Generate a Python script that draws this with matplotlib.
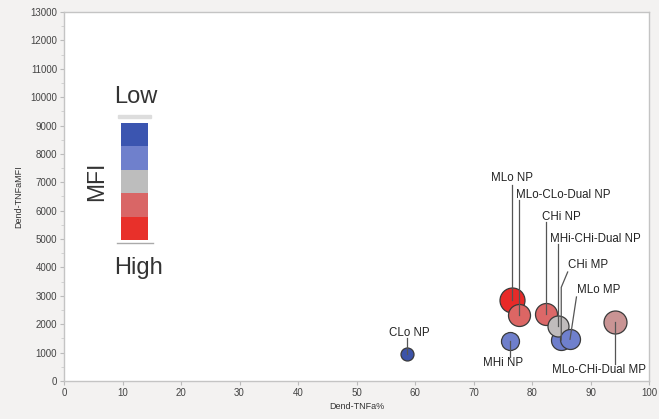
import matplotlib
matplotlib.use("Agg")
import matplotlib.pyplot as plt
from matplotlib.ticker import MultipleLocator

plt.rcParams['font.family'] = ['Liberation Sans', 'DejaVu Sans']

# ---- data ----
names = ["MLo NP", "MLo-CLo-Dual NP", "CHi NP", "MHi-CHi-Dual NP", "CHi MP",
         "MLo MP", "CLo NP", "MHi NP", "MLo-CHi-Dual MP"]
tnfa_pct = [76.5, 77.8, 82.4, 84.4, 85.0, 86.5, 58.7, 76.2, 94.2]
tnfa_mfi = [2850, 2330, 2350, 1950, 1440, 1470, 950, 1420, 2070]
bubble_d = [25, 22, 22, 21, 20, 20, 13, 18, 23]   # bubble diameters (px)
colors = ["#e82a28", "#dc6664", "#dc6868", "#c0bcbc", "#6e7ecb",
          "#6f80cc", "#3c53a8", "#6f7fcb", "#c99494"]

legend_colors = ["#3b55b0", "#6f80cc", "#bdbdbd", "#d96666", "#e8302a"]

# label layout: (text x, text y, ha), leader path points near the label
label_layout = [
    (76.6, 7150, "center"),
    (77.3, 6550, "left"),
    (85.0, 5770, "center"),
    (83.1, 5000, "left"),
    (86.2, 4085, "left"),
    (87.7, 3200, "left"),
    (59.1, 1690, "center"),
    (75.0, 634, "center"),
    (91.4, 387, "center"),
]
# leader extra vertices (from label end toward the point); None x = vertical
leader_ends = [
    [(None, 6900)],
    [(None, 6370)],
    [(None, 5600)],
    [(None, 4820)],
    [(86.1, 3840), (None, 3300)],
    [(87.6, 2960)],
    [(None, 1510)],
    [(None, 845)],
    [(None, 600)],
]

fig = plt.figure(figsize=(6.59, 4.19), dpi=100, facecolor="#f3f2f1")
ax = fig.add_axes([64/659, 38/419, 585/659, 369/419])
ax.set_facecolor("white")
ax.set_xlim(0, 100)
ax.set_ylim(0, 13000)
ax.xaxis.set_major_locator(MultipleLocator(10))
ax.yaxis.set_major_locator(MultipleLocator(1000))
ax.yaxis.set_minor_locator(MultipleLocator(500))
for s in ax.spines.values():
    s.set_color("#c4c4c4")
    s.set_linewidth(1.0)
ax.tick_params(axis="both", which="major", labelsize=7, colors="#bbbbbb",
               labelcolor="#444444", length=3, width=0.8, pad=2)
ax.tick_params(axis="y", which="minor", colors="#cccccc", length=2, width=0.6)
ax.set_xlabel("Dend-TNFa%", fontsize=6.5, color="#333333", labelpad=3)
ax.set_ylabel("Dend-TNFaMFI", fontsize=6.5, color="#333333", labelpad=5)

order = [0, 1, 2, 4, 3, 5, 6, 7, 8]
for z, i in enumerate(order):
    ax.scatter(tnfa_pct[i], tnfa_mfi[i], s=(bubble_d[i]*0.72)**2, c=colors[i],
               edgecolors="#3a3a3a", linewidths=0.9, zorder=3 + z*0.01)

for i, name in enumerate(names):
    lx, ly, ha = label_layout[i]
    ax.text(lx, ly, name, ha=ha, va="center", fontsize=8.3, color="#222222", zorder=6)
    xs, ys = [], []
    for (ex, ey) in leader_ends[i]:
        xs.append(tnfa_pct[i] if ex is None else ex)
        ys.append(ey)
    xs.append(tnfa_pct[i])
    ys.append(tnfa_mfi[i])
    ax.plot(xs, ys, color="#555555", lw=0.9, zorder=5)

# MFI legend bar
lax = fig.add_axes([121/659, (419-240)/419, 27/659, 117/419])
lax.imshow([[matplotlib.colors.to_rgb(c)] for c in legend_colors],
           aspect="auto", interpolation="nearest")
lax.axis("off")
fig.patches.append(matplotlib.patches.Rectangle((118/659, (419-118)/419), 33/659, 3/419,
                   transform=fig.transFigure, color="#dddddd"))
fig.lines.append(matplotlib.lines.Line2D([117/659, 153/659], [(419-243)/419]*2,
                 transform=fig.transFigure, color="#aaaaaa", lw=1))
fig.text(136/659, (419-97)/419, "Low", fontsize=17, ha="center", va="center", color="#333333")
fig.text(138/659, (419-268)/419, "High", fontsize=17, ha="center", va="center", color="#333333")
fig.text(97/659, (419-181)/419, "MFI", fontsize=16.5, ha="center", va="center",
         rotation=90, color="#333333")

fig.savefig("out.png", dpi=100, facecolor=fig.get_facecolor())
